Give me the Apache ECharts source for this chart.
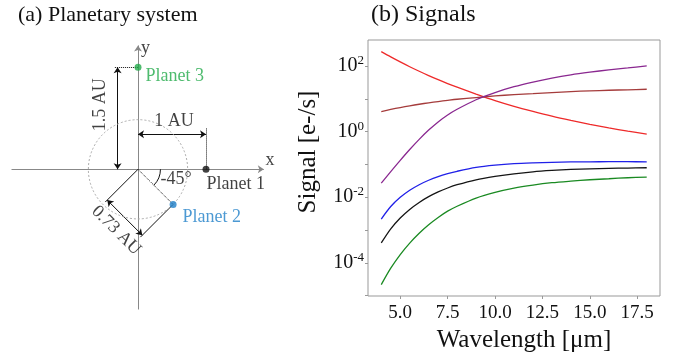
<!DOCTYPE html>
<html lang="en" style="height: 100%">
<head>
    <meta charset="utf-8">
    <title>Planetary system and signals</title>
    <script src="https://cdn.jsdelivr.net/npm/echarts@6/dist/echarts.min.js"></script>
</head>
<body style="margin: 0; height: 100%; background: #fff">
<div id="main" style="width: 676px; height: 360px"></div>
<script type="text/javascript">
    // (b) signals [e-/s] vs wavelength [um]
    var wavelength = [4, 4.5, 5, 5.5, 6, 6.5, 7, 7.5, 8, 9, 10, 11, 12, 13, 14, 15, 16, 17, 18];
    var redSignal = [273, 188.8, 132.7, 94.8, 68.9, 50.8, 38.1, 29.0, 22.5, 13.9, 8.81, 5.89, 4.12, 2.95, 2.19, 1.66, 1.29, 1.03, 0.838];
    var brownSignal = [4.08, 4.73, 5.41, 6.11, 6.82, 7.53, 8.22, 8.95, 9.68, 10.9, 12.2, 13.4, 14.4, 15.5, 16.6, 17.4, 18.2, 18.8, 19.5];
    var purpleSignal = [0.0269, 0.0603, 0.1327, 0.2838, 0.5794, 1.112, 1.977, 3.221, 4.786, 9.33, 15.5, 23.4, 32.4, 42.7, 53.7, 64.6, 75.9, 87.1, 100];
    var blueSignal = [0.00217, 0.00521, 0.00993, 0.01629, 0.0241, 0.0329, 0.0424, 0.0521, 0.0619, 0.0813, 0.0955, 0.106, 0.112, 0.116, 0.119, 0.12, 0.121, 0.121, 0.12];
    var blackSignal = [0.000405, 0.001089, 0.00233, 0.00426, 0.00695, 0.0104, 0.01452, 0.01914, 0.0241, 0.0341, 0.0431, 0.0519, 0.0597, 0.0656, 0.0703, 0.0736, 0.0759, 0.0776, 0.0791];
    var greenSignal = [2.18e-5, 6.9e-5, 1.795e-4, 4.02e-4, 8.02e-4, 0.001452, 0.00242, 0.00377, 0.00532, 0.00944, 0.0141, 0.019, 0.0235, 0.0277, 0.031, 0.0341, 0.0366, 0.0393, 0.0411];
    var xTicks = [5, 7.5, 10, 12.5, 15, 17.5];
    var yLabelTicks = [1e-4, 1e-2, 1, 100];
    var yTicks = [1e-5, 1e-4, 1e-3, 1e-2, 0.1, 1, 10, 100];

    // (a) planets: distance [AU], angle [deg]
    var planetNames = ['Planet 1', 'Planet 2', 'Planet 3'];
    var planetDist = [1, 0.73, 1.5];
    var planetAngle = [0, -45, 90];
    var planetColors = ['#111111', '#1f7fc8', '#22aa4a'];
    var planetLabelOffset = [[-8, 15], [1, 13], [-1, 9]];

    var FONT = "'Liberation Serif', 'DejaVu Serif', serif";

    var planetPos = planetDist.map(function (d, i) {
        var a = planetAngle[i] * Math.PI / 180;
        return [d * Math.cos(a), d * Math.sin(a)];
    });
    var p1 = planetPos[0], p2 = planetPos[1], p3 = planetPos[2];

    // offset of the 0.73 AU dimension line, perpendicular to planet 2 direction
    var ext = 0.68, dimOff = 0.64;
    var perp = [-Math.SQRT1_2, -Math.SQRT1_2];

    var axisArrows = [
        {coords: [[-1.86, 0], [1.85, 0]]},
        {coords: [[0, -2.06], [0, 1.82]]}
    ];
    var dimLines = [
        {coords: [[-0.3, 0], [-0.3, p3[1]]]},
        {coords: [[0, 0.515], [p1[0], 0.515]]},
        {coords: [[perp[0] * dimOff, perp[1] * dimOff], [p2[0] + perp[0] * dimOff, p2[1] + perp[1] * dimOff]]}
    ];
    var extLines = [
        {coords: [[0, 0], [perp[0] * ext, perp[1] * ext]]},
        {coords: [p2, [p2[0] + perp[0] * ext, p2[1] + perp[1] * ext]]}
    ];
    var dottedLines = [
        {coords: [[-0.34, p3[1]], p3]},
        {coords: [[p1[0], 0.6], p1]},
        {coords: [[0, 0], p2]}
    ];
    // [x, y, text, rotate]
    var notes = [
        [1.94, 0.14, 'x', 0],
        [0.11, 1.78, 'y', 0],
        [-0.55, 0.95, '1.5 AU', 90],
        [0.53, 0.71, '1 AU', 0],
        [0.56, -0.15, '-45°', 0],
        [-0.32, -0.9, '0.73 AU', -45]
    ];

    function pairs(ys) {
        return wavelength.map(function (w, i) { return [w, ys[i]]; });
    }
    function sigLine(name, ys, color) {
        return {
            name: name, type: 'line', xAxisIndex: 1, yAxisIndex: 1,
            data: pairs(ys), showSymbol: false, smooth: 0.3, silent: true,
            lineStyle: {color: color, width: 1.3}, itemStyle: {color: color}
        };
    }
    function segs(data, color, type, symbol) {
        return {
            type: 'lines', coordinateSystem: 'cartesian2d', xAxisIndex: 0, yAxisIndex: 0,
            data: data, silent: true, symbol: symbol, symbolSize: 6,
            lineStyle: {color: color, width: 1, type: type, opacity: 1}
        };
    }

    var chart = echarts.init(document.getElementById('main'));
    var option = {
        animation: false,
        title: [
            {text: '(a) Planetary system', left: 13, top: -1, textStyle: {fontFamily: FONT, fontSize: 22, fontWeight: 'normal', color: '#111'}},
            {text: '(b) Signals', left: 366, top: -2, textStyle: {fontFamily: FONT, fontSize: 24, fontWeight: 'normal', color: '#111'}}
        ],
        graphic: [{
            // y axis title, sits a bit above the middle of the axis
            type: 'text', x: 308, y: 152, rotation: Math.PI / 2, silent: true,
            style: {text: 'Signal [e-/s]', font: '25px ' + FONT, fill: '#111', align: 'center', verticalAlign: 'middle'}
        }],
        grid: [
            {left: 2, top: 40, width: 272, height: 279},
            {left: 368, top: 40, width: 292, height: 256, show: true, borderColor: '#999', borderWidth: 1, backgroundColor: 'transparent'}
        ],
        xAxis: [
            {gridIndex: 0, type: 'value', min: -2, max: 2, show: false},
            {
                gridIndex: 1, type: 'value', min: 3.3, max: 18.7,
                name: 'Wavelength [μm]', nameLocation: 'middle', nameGap: 32,
                nameTextStyle: {fontFamily: FONT, fontSize: 25, color: '#111', padding: [0, 0, 0, 20]},
                axisLine: {show: false},
                axisTick: {show: true, length: 3, customValues: xTicks, lineStyle: {color: '#999'}},
                axisLabel: {
                    customValues: xTicks, margin: 8, fontFamily: FONT, fontSize: 19, color: '#111',
                    formatter: function (v) { return v.toFixed(1); }
                },
                splitLine: {show: false}
            }
        ],
        yAxis: [
            {gridIndex: 0, type: 'value', min: -2.2, max: 1.9, show: false},
            {
                gridIndex: 1, type: 'log', logBase: 10, min: 9.8e-6, max: 618,
                axisLine: {show: false},
                axisTick: {show: true, length: 3, customValues: yTicks, lineStyle: {color: '#999'}},
                axisLabel: {
                    customValues: yLabelTicks, margin: 4,
                    formatter: function (v) {
                        return '{b|10}{s|' + Math.round(Math.log10(v)) + '}';
                    },
                    rich: {
                        b: {fontFamily: FONT, fontSize: 20, color: '#111', lineHeight: 24},
                        s: {fontFamily: FONT, fontSize: 13, color: '#111', verticalAlign: 'top'}
                    }
                },
                splitLine: {show: false}
            }
        ],
        series: [
            segs(axisArrows, '#888', 'solid', ['none', 'arrow']),
            segs(dimLines, '#111', 'solid', ['arrow', 'arrow']),
            segs(extLines, '#111', 'solid', ['none', 'none']),
            segs(dottedLines, '#111', 'dotted', ['none', 'none']),
            {
                // dashed orbit circle r = 0.73 AU and the -45 deg arc
                type: 'custom', coordinateSystem: 'cartesian2d', xAxisIndex: 0, yAxisIndex: 0, silent: true,
                data: [[0, 0, planetDist[1], 0], [0, 0, 0.33, planetAngle[1]]],
                encode: {x: 0, y: 1},
                renderItem: function (params, api) {
                    var c = api.coord([api.value(0), api.value(1)]);
                    var r = api.size([api.value(2), 0])[0];
                    var ang = api.value(3);
                    if (ang === 0) {
                        return {type: 'circle', shape: {cx: c[0], cy: c[1], r: r},
                            style: {fill: 'none', stroke: '#aaa', lineWidth: 1, lineDash: [2, 2]}};
                    }
                    return {type: 'arc', shape: {cx: c[0], cy: c[1], r: r, startAngle: 0, endAngle: -ang * Math.PI / 180, clockwise: true},
                        style: {fill: 'none', stroke: '#111', lineWidth: 1}};
                }
            },
            {
                type: 'scatter', xAxisIndex: 0, yAxisIndex: 0, silent: true, symbolSize: 7,
                data: planetPos.map(function (p, i) {
                    return {
                        value: p, name: planetNames[i], itemStyle: {color: planetColors[i]},
                        label: {show: true, position: 'right', formatter: '{b}', offset: planetLabelOffset[i],
                            color: planetColors[i], fontFamily: FONT, fontSize: 18}
                    };
                })
            },
            {
                type: 'scatter', xAxisIndex: 0, yAxisIndex: 0, silent: true, symbolSize: 1,
                itemStyle: {color: 'rgba(0,0,0,0)'},
                data: notes.map(function (n) {
                    return {
                        value: [n[0], n[1]], name: n[2],
                        label: {show: true, position: 'inside', formatter: '{b}', rotate: n[3],
                            color: '#111', fontFamily: FONT, fontSize: 18}
                    };
                })
            },
            sigLine('red', redSignal, '#ee2a2a'),
            sigLine('brown', brownSignal, '#a53c3c'),
            sigLine('purple', purpleSignal, '#8a2890'),
            sigLine('blue', blueSignal, '#2020e8'),
            sigLine('black', blackSignal, '#151515'),
            sigLine('green', greenSignal, '#1a8a22')
        ]
    };
    chart.setOption(option);
</script>
</body>
</html>
